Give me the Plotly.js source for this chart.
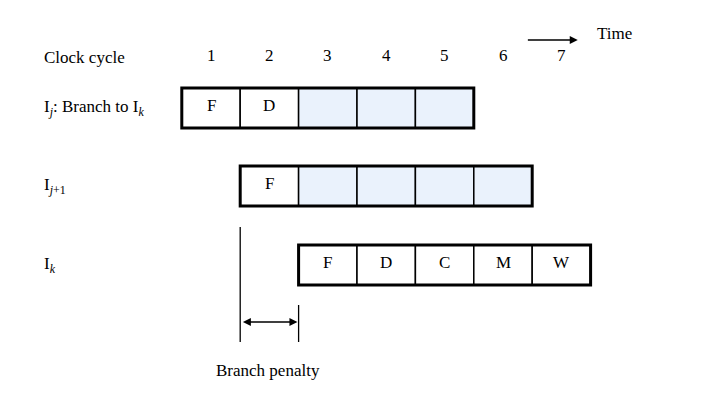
<!DOCTYPE html>
<html><head><meta charset="utf-8">
<script src="https://cdn.plot.ly/plotly-3.0.1.min.js"></script>
<style>body{margin:0}#c{width:720px;height:400px}</style></head>
<body><div id="c"></div>
<script>
const cycles = [1, 2, 3, 4, 5, 6, 7];
const rowLabels = ['I<sub><i>j</i></sub>: Branch to I<sub><i>k</i></sub>', 'I<sub><i>j</i>+1</sub>', 'I<sub><i>k</i></sub>'];
const rowY = [108, 186, 265];
const rowStart = [1, 2, 3];
const rowStages = [['F', 'D', '', '', ''], ['F', '', '', '', ''], ['F', 'D', 'C', 'M', 'W']];
const penaltyFrom = 1.5, penaltyTo = 2.5;

const H = 40, font = 'Liberation Serif, Times New Roman, serif';
const shapes = [], ann = [];
const cellX = c => [c - 0.5, c + 0.5];
const labelX = -1.9;

cycles.forEach(c => ann.push({x: c, y: 55, text: String(c), showarrow: false, font: {size: 17}}));
ann.push({x: labelX, y: 57, text: 'Clock cycle', showarrow: false, xanchor: 'left', font: {size: 17}});
ann.push({x: 7.58, y: 33, text: 'Time', showarrow: false, xanchor: 'left', font: {size: 17}});
ann.push({x: 7.28, y: 40, ax: 6.4, ay: 40, axref: 'x', ayref: 'y', text: '', showarrow: true,
  arrowhead: 2, arrowsize: 1, arrowwidth: 1.6, arrowcolor: '#000'});

rowStages.forEach((st, r) => {
  const y0 = rowY[r] - H / 2, y1 = rowY[r] + H / 2;
  ann.push({x: labelX, y: rowY[r], text: rowLabels[r], showarrow: false, xanchor: 'left', font: {size: 17}});
  st.forEach((s, i) => {
    const [a, b] = cellX(rowStart[r] + i);
    shapes.push({type: 'rect', x0: a, x1: b, y0, y1, fillcolor: s ? '#ffffff' : '#eaf2fc',
      line: {color: '#000', width: 1.5}, layer: 'below'});
    if (s) ann.push({x: rowStart[r] + i, y: rowY[r] - 3, text: s, showarrow: false, font: {size: 17}});
  });
  const [a] = cellX(rowStart[r]), [, b] = cellX(rowStart[r] + st.length - 1);
  shapes.push({type: 'rect', x0: a, x1: b, y0, y1, line: {color: '#000', width: 3}});
});

shapes.push({type: 'line', x0: penaltyFrom, x1: penaltyFrom, y0: 227, y1: 342, line: {color: '#000', width: 1.3}});
shapes.push({type: 'line', x0: penaltyTo, x1: penaltyTo, y0: 305, y1: 342, line: {color: '#000', width: 1.3}});
ann.push({x: penaltyTo - 0.02, y: 322, ax: penaltyFrom + 0.02, ay: 322, axref: 'x', ayref: 'y', text: '',
  showarrow: true, arrowhead: 2, startarrowhead: 2, arrowside: 'end+start', arrowwidth: 1.6, arrowcolor: '#000'});
ann.push({x: (penaltyFrom + penaltyTo) / 2 - 0.02, y: 370, text: 'Branch penalty', showarrow: false, font: {size: 17}});

Plotly.newPlot('c', [], {
  width: 720, height: 400, margin: {l: 0, r: 0, t: 0, b: 0},
  paper_bgcolor: '#fff', plot_bgcolor: '#fff',
  font: {family: font, color: '#000'},
  xaxis: {range: [1 - 211 / 58.4, 1 + 509 / 58.4], visible: false, fixedrange: true},
  yaxis: {range: [400, 0], visible: false, fixedrange: true},
  shapes, annotations: ann, showlegend: false
}, {displayModeBar: false, staticPlot: true});
</script></body></html>
